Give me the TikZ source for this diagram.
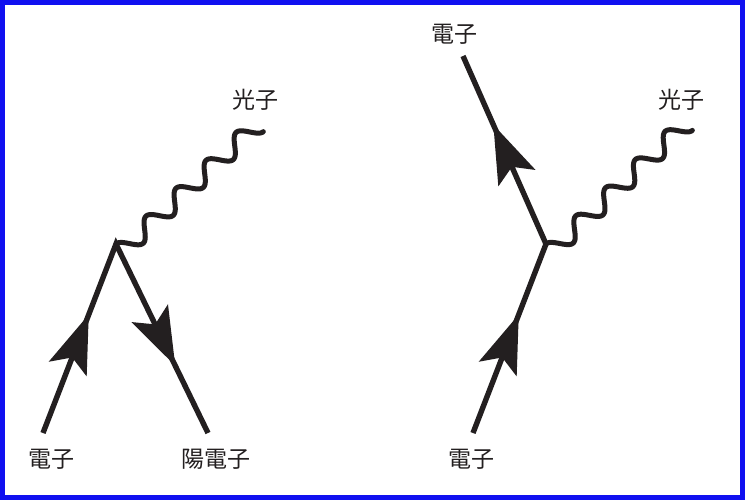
\documentclass[tikz,border=0pt]{standalone}
\usepackage{fontspec}
\newfontfamily\jp{Noto Sans CJK JP}
\usetikzlibrary{arrows.meta,decorations.markings}
\definecolor{ink}{HTML}{231F20}
\definecolor{framec}{HTML}{1010F0}
\tikzset{
  fermion/.style 2 args={draw=ink,line width=5.4pt,line join=miter,postaction={decorate},
    decoration={markings,
      mark=at position #1 with {\arrow{Stealth[length=58pt,width=40pt,inset=12pt]}},
      mark=at position #2 with {\arrow{Stealth[length=58pt,width=40pt,inset=12pt]}}}},
  photon/.style={draw=ink,line width=5pt,line cap=round,line join=round},
  lbl/.style={font=\jp\fontsize{23}{23}\selectfont,text=ink,inner sep=0pt},
}
\begin{document}
\begin{tikzpicture}[x=1pt,y=-1pt]
\useasboundingbox (0,0) rectangle (745,500);
\fill[white] (0,0) rectangle (745,500);
\draw[framec,line width=5pt] (2.5,2.5) rectangle (742.5,497.5);
% left diagram
\coordinate (vL) at (116,244);
\coordinate (eL) at (43,433);
\coordinate (pL) at (208,433);
\path[fermion={127pt}{338pt}] (eL) -- (vL) -- (pL);
\draw[photon,shift={(vL)},rotate=42.9]
  plot[domain=0:4.5,samples=220,smooth,variable=\t] ({41*\t},{9-9*cos(360*\t)});
\node[lbl] (leL) at (51,459) {電子};
\node[lbl] (lpL) at (216,459) {陽電子};
\node[lbl] (lgL) at (255,100) {光子};
% right diagram
\coordinate (vR) at (546,244);
\coordinate (eR1) at (473,433);
\coordinate (eR2) at (463,56);
\path[fermion={127pt}{333pt}] (eR1) -- (vR) -- (eR2);
\draw[photon,shift={(vR)},rotate=43.4]
  plot[domain=0:4.5,samples=220,smooth,variable=\t] ({41*\t},{9-9*cos(360*\t)});
\node[lbl] (leR2) at (454,34) {電子};
\node[lbl] (lgR) at (681,100) {光子};
\node[lbl] (leR1) at (471,459) {電子};
\end{tikzpicture}
\end{document}
